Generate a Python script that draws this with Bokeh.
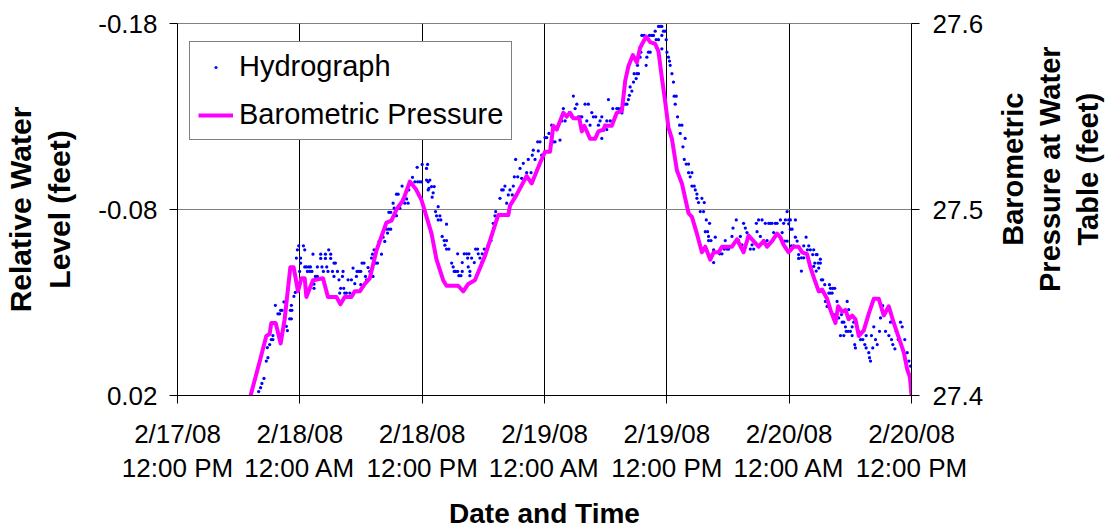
from math import pi
from bokeh.plotting import figure
from bokeh.layouts import row
from bokeh.models import (Range1d, LinearAxis, FixedTicker, Legend, LegendItem)
from bokeh.core.properties import value
from bokeh.embed import file_html
from bokeh.resources import INLINE

FONT = "Liberation Sans"

# ---------------- data ----------------
# x: hours elapsed since 2/17/08 12:00 PM
x_ticks = [0, 12, 24, 36, 48, 60, 72]
x_tick_labels = ["2/17/08\n12:00 PM", "2/18/08\n12:00 AM", "2/18/08\n12:00 PM",
                 "2/19/08\n12:00 AM", "2/19/08\n12:00 PM", "2/20/08\n12:00 AM",
                 "2/20/08\n12:00 PM"]
level_ticks = [-0.18, -0.08, 0.02]
level_tick_labels = ["-0.18", "-0.08", "0.02"]
baro_ticks = [27.4, 27.5, 27.6]
baro_tick_labels = ["27.4", "27.5", "27.6"]

series_names = ["Hydrograph", "Barometric Pressure"]
x_title = "Date and Time"
left_title = "Relative Water\nLevel (feet)"
right_title = "Barometric\nPressure at Water\nTable (feet)"

hydro_hours = [
    7.96, 8.15, 8.28, 8.48, 8.71, 8.87, 8.81, 9.04, 9.20, 9.36,
    9.36, 9.60, 9.85, 10.02, 10.12, 10.25, 10.44, 10.51, 10.68, 10.78,
    11.00, 11.17, 11.07, 11.23, 11.17, 11.42, 11.56, 11.66, 11.76, 11.89,
    12.08, 12.08, 11.98, 12.35, 12.48, 12.48, 12.64, 12.87, 13.04, 12.74,
    12.97, 13.19, 13.29, 13.39, 13.39, 13.53, 13.72, 13.72, 14.05, 14.05,
    14.17, 14.31, 14.51, 14.51, 14.64, 14.76, 14.83, 15.03, 15.03, 15.20,
    15.35, 15.35, 15.49, 15.69, 15.84, 15.91, 16.01, 16.18, 16.24, 16.31,
    16.40, 16.57, 16.73, 16.90, 17.06, 17.22, 17.39, 17.55, 17.61, 17.81,
    17.98, 17.98, 18.10, 18.30, 18.44, 18.54, 18.69, 18.86, 18.96, 19.03,
    19.13, 19.18, 19.28, 19.45, 19.62, 19.68, 19.77, 20.01, 20.17, 20.33,
    20.50, 20.60, 20.73, 20.92, 20.73, 20.92, 21.15, 21.25, 21.32, 21.48,
    21.64, 21.48, 21.64, 21.81, 22.03, 22.13, 22.30, 22.47, 22.62, 22.69,
    22.79, 23.05, 23.28, 23.55, 23.77, 23.94, 23.51, 24.00, 24.53, 24.59,
    24.59, 24.43, 24.43, 24.75, 24.66, 24.92, 25.18, 24.98, 25.08, 25.31,
    25.57, 25.41, 25.74, 25.57, 25.83, 26.39, 25.96, 26.16, 26.39, 26.23,
    26.39, 26.62, 26.89, 27.04, 27.14, 27.28, 27.48, 27.48, 27.60, 27.80,
    27.93, 27.93, 28.12, 28.36, 28.59, 28.46, 28.52, 28.68, 28.68, 28.85,
    29.11, 29.24, 29.44, 29.50, 29.67, 29.83, 29.89, 30.09, 30.32, 30.48,
    30.75, 30.97, 31.14, 31.21, 31.63, 31.80, 31.95, 32.12, 32.29, 32.45,
    32.61, 32.84, 32.94, 33.04, 33.17, 33.37, 33.60, 33.76, 33.92, 34.25,
    34.41, 34.68, 34.80, 34.90, 35.07, 35.33, 35.56, 35.39, 35.72, 36.05,
    36.22, 36.44, 36.71, 36.87, 37.03, 37.20, 37.36, 37.52, 37.69, 37.85,
    38.02, 38.18, 38.44, 38.67, 38.83, 39.00, 39.17, 39.32, 39.49, 39.66,
    39.98, 40.15, 40.30, 40.47, 40.64, 40.80, 41.03, 41.29, 41.45, 41.62,
    41.94, 42.11, 42.27, 41.62, 41.78, 42.11, 42.44, 42.70, 42.70, 42.93,
    43.09, 43.25, 43.49, 43.59, 43.91, 44.08, 44.23, 44.33, 44.40, 44.57,
    44.73, 44.79, 44.99, 45.06, 45.22, 45.12, 45.38, 45.45, 45.55, 45.78,
    45.97, 46.04, 46.20, 46.37, 46.30, 46.53, 46.69, 46.86, 46.95, 47.18,
    47.18, 47.35, 47.51, 47.51, 47.67, 47.51, 47.84, 47.94, 48.01, 48.16,
    48.26, 48.33, 48.50, 48.65, 48.72, 48.92, 48.82, 49.05, 49.25, 49.48,
    49.31, 49.58, 49.80, 49.71, 49.90, 50.13, 50.13, 50.29, 50.46, 50.46,
    50.69, 50.79, 50.95, 50.95, 51.11, 51.44, 51.67, 51.28, 51.60, 51.87,
    51.77, 52.00, 52.19, 52.09, 52.09, 52.33, 52.59, 52.75, 52.59, 53.18,
    53.41, 53.73, 53.63, 53.90, 54.06, 54.39, 54.49, 54.81, 54.88, 55.04,
    55.21, 55.37, 55.53, 55.70, 55.86, 56.02, 56.19, 56.36, 56.52, 56.78,
    56.85, 57.00, 57.17, 57.34, 57.50, 57.66, 57.83, 57.99, 58.15, 58.32,
    58.48, 58.64, 58.81, 59.14, 59.31, 59.46, 59.63, 59.80, 59.95, 59.95,
    60.12, 60.12, 60.29, 59.56, 59.80, 60.61, 60.22, 60.44, 60.61, 60.78,
    60.93, 60.93, 61.20, 61.43, 61.20, 61.43, 61.66, 61.79, 61.92, 62.08,
    62.31, 62.41, 62.41, 62.51, 62.65, 62.74, 62.65, 62.84, 62.90, 63.06,
    63.06, 63.16, 63.29, 63.49, 63.95, 64.05, 64.27, 64.47, 63.89, 64.05,
    64.22, 63.56, 63.72, 64.37, 64.64, 64.70, 64.86, 65.13, 65.20, 65.36,
    65.52, 65.69, 65.84, 65.59, 65.78, 65.03, 65.36, 66.01, 66.18, 66.34,
    66.18, 66.43, 66.50, 66.67, 66.83, 67.00, 67.22, 67.42, 67.55, 67.55,
    67.81, 67.88, 67.98, 68.07, 68.20, 68.30, 68.47, 68.64, 68.86, 68.96,
    69.06, 69.18, 69.45, 69.78, 69.94, 70.04, 70.17, 70.37, 70.51, 70.70,
    70.92, 71.09, 71.34, 71.58, 71.74, 71.91,
]
hydro_level = [
    0.0179, 0.0158, 0.0135, 0.0108, 0.0015, -0.0003, -0.0058, -0.0074, -0.0101, -0.0101,
    -0.0122, -0.0285, -0.0239, -0.0239, -0.0258, -0.0258, -0.0303, -0.0194, -0.0172, -0.0149,
    -0.0212, -0.0212, -0.0258, -0.0258, -0.0285, -0.0333, -0.0354, -0.0539, -0.0583, -0.0605,
    -0.0539, -0.0512, -0.0467, -0.0605, -0.0583, -0.0491, -0.0491, -0.0491, -0.0491, -0.0467,
    -0.0467, -0.0467, -0.0560, -0.0399, -0.0376, -0.0440, -0.0491, -0.0440, -0.0560, -0.0537,
    -0.0491, -0.0467, -0.0560, -0.0537, -0.0491, -0.0467, -0.0583, -0.0560, -0.0537, -0.0467,
    -0.0512, -0.0440, -0.0512, -0.0467, -0.0422, -0.0351, -0.0376, -0.0440, -0.0467, -0.0376,
    -0.0351, -0.0351, -0.0422, -0.0351, -0.0422, -0.0485, -0.0401, -0.0440, -0.0467, -0.0467,
    -0.0467, -0.0396, -0.0512, -0.0512, -0.0440, -0.0422, -0.0488, -0.0467, -0.0440, -0.0539,
    -0.0560, -0.0440, -0.0583, -0.0512, -0.0512, -0.0605, -0.0628, -0.0560, -0.0651, -0.0628,
    -0.0694, -0.0673, -0.0694, -0.0694, -0.0785, -0.0785, -0.0834, -0.0807, -0.0767, -0.0767,
    -0.0807, -0.0882, -0.0882, -0.0807, -0.0926, -0.0857, -0.0834, -0.0857, -0.0834, -0.0905,
    -0.0949, -0.0973, -0.0949, -0.0949, -0.0949, -0.0949, -0.1027, -0.1042, -0.1042, -0.0949,
    -0.0905, -0.1021, -0.0958, -0.0958, -0.0914, -0.0923, -0.0923, -0.0866, -0.0890, -0.0789,
    -0.0815, -0.0766, -0.0766, -0.0744, -0.0744, -0.0721, -0.0655, -0.0633, -0.0633, -0.0608,
    -0.0587, -0.0587, -0.0512, -0.0491, -0.0467, -0.0467, -0.0562, -0.0467, -0.0444, -0.0444,
    -0.0467, -0.0515, -0.0562, -0.0562, -0.0562, -0.0539, -0.0491, -0.0467, -0.0444, -0.0539,
    -0.0515, -0.0587, -0.0587, -0.0562, -0.0539, -0.0515, -0.0562, -0.0587, -0.0587, -0.0610,
    -0.0633, -0.0726, -0.0766, -0.0789, -0.0860, -0.0905, -0.0905, -0.0926, -0.0834, -0.0878,
    -0.0905, -0.0878, -0.0926, -0.0976, -0.1069, -0.0976, -0.1021, -0.0968, -0.1048, -0.0998,
    -0.1069, -0.0998, -0.1092, -0.1119, -0.1069, -0.1164, -0.1164, -0.1115, -0.1092, -0.1187,
    -0.1187, -0.1209, -0.1253, -0.1164, -0.1164, -0.1230, -0.1253, -0.1173, -0.1276, -0.1343,
    -0.1276, -0.1298, -0.1321, -0.1298, -0.1410, -0.1343, -0.1366, -0.1298, -0.1298, -0.1298,
    -0.1366, -0.1276, -0.1366, -0.1253, -0.1321, -0.1298, -0.1298, -0.1253, -0.1276, -0.1298,
    -0.1253, -0.1276, -0.1391, -0.1182, -0.1226, -0.1230, -0.1276, -0.1276, -0.1343, -0.1298,
    -0.1343, -0.1343, -0.1343, -0.1319, -0.1366, -0.1366, -0.1391, -0.1414, -0.1459, -0.1437,
    -0.1485, -0.1530, -0.1504, -0.1530, -0.1530, -0.1575, -0.1619, -0.1646, -0.1736, -0.1736,
    -0.1575, -0.1619, -0.1646, -0.1646, -0.1736, -0.1736, -0.1736, -0.1759, -0.1713, -0.1713,
    -0.1784, -0.1784, -0.1784, -0.1736, -0.1759, -0.1664, -0.1759, -0.1713, -0.1646, -0.1619,
    -0.1598, -0.1575, -0.1530, -0.1485, -0.1409, -0.1409, -0.1366, -0.1298, -0.1253, -0.1253,
    -0.1209, -0.1137, -0.1182, -0.1069, -0.1044, -0.1044, -0.0998, -0.0976, -0.0998, -0.0926,
    -0.0926, -0.0905, -0.0883, -0.0860, -0.0837, -0.0860, -0.0837, -0.0789, -0.0789, -0.0744,
    -0.0681, -0.0681, -0.0726, -0.0655, -0.0633, -0.0633, -0.0515, -0.0651, -0.0583, -0.0562,
    -0.0562, -0.0633, -0.0587, -0.0587, -0.0587, -0.0655, -0.0700, -0.0744, -0.0633, -0.0633,
    -0.0655, -0.0610, -0.0726, -0.0700, -0.0676, -0.0655, -0.0587, -0.0610, -0.0587, -0.0726,
    -0.0681, -0.0744, -0.0655, -0.0744, -0.0633, -0.0726, -0.0633, -0.0726, -0.0726, -0.0726,
    -0.0676, -0.0726, -0.0726, -0.0744, -0.0676, -0.0726, -0.0744, -0.0789, -0.0744, -0.0723,
    -0.0744, -0.0694, -0.0694, -0.0630, -0.0630, -0.0744, -0.0605, -0.0605, -0.0651, -0.0630,
    -0.0558, -0.0537, -0.0540, -0.0540, -0.0469, -0.0605, -0.0651, -0.0583, -0.0605, -0.0583,
    -0.0558, -0.0583, -0.0494, -0.0512, -0.0558, -0.0558, -0.0469, -0.0512, -0.0485, -0.0533,
    -0.0512, -0.0422, -0.0422, -0.0396, -0.0396, -0.0376, -0.0376, -0.0376, -0.0351, -0.0351,
    -0.0351, -0.0306, -0.0279, -0.0235, -0.0235, -0.0306, -0.0217, -0.0235, -0.0194, -0.0194,
    -0.0169, -0.0306, -0.0262, -0.0145, -0.0145, -0.0122, -0.0122, -0.0145, -0.0169, -0.0194,
    -0.0122, -0.0074, -0.0056, -0.0169, -0.0145, -0.0101, -0.0101, -0.0074, -0.0122, -0.0056,
    -0.0030, -0.0003, 0.0015, -0.0122, -0.0056, -0.0169, -0.0101, -0.0074, -0.0145, -0.0217,
    -0.0262, -0.0283, -0.0145, -0.0122, -0.0194, -0.0101, -0.0074, -0.0051, -0.0145, -0.0101,
    -0.0194, -0.0169, -0.0101, -0.0030, 0.0015, 0.0042,
]

baro_hours = [
    7.17, 8.05, 8.71, 9.04, 9.20, 9.63, 10.12, 10.51, 10.83, 11.07,
    11.39, 11.82, 12.15, 12.48, 12.64, 13.29, 14.27, 14.76, 15.59, 15.98,
    16.40, 17.06, 17.39, 17.88, 18.37, 18.86, 19.52, 20.50, 20.99, 21.48,
    22.13, 22.79, 23.38, 23.94, 24.43, 24.92, 25.41, 26.06, 26.39, 27.53,
    28.03, 28.52, 29.17, 30.16, 31.46, 32.45, 32.61, 33.27, 34.25, 34.74,
    35.56, 36.05, 36.54, 36.87, 37.20, 37.85, 38.18, 38.51, 38.83, 39.42,
    39.66, 39.91, 40.47, 40.96, 41.29, 41.78, 41.94, 42.60, 43.09, 43.59,
    43.91, 44.23, 44.67, 45.06, 45.38, 45.97, 46.37, 46.86, 47.18, 47.51,
    47.84, 48.16, 48.50, 48.99, 49.48, 50.13, 50.46, 50.95, 51.44, 51.77,
    52.26, 52.59, 53.08, 53.41, 54.39, 54.88, 55.53, 56.02, 56.51, 57.00,
    57.50, 57.83, 58.32, 58.81, 59.14, 59.46, 59.95, 60.44, 60.93, 61.27,
    61.76, 62.08, 62.57, 62.90, 63.23, 63.72, 64.05, 64.54, 64.80, 65.20,
    65.52, 65.84, 66.18, 66.50, 66.83, 67.32, 67.81, 68.30, 68.79, 69.28,
    69.77, 70.26, 70.76, 71.25, 71.58, 71.84, 72.00,
]
baro_level = [
    27.400, 27.418, 27.432, 27.433, 27.439, 27.439, 27.428, 27.441, 27.457, 27.469,
    27.469, 27.456, 27.463, 27.463, 27.453, 27.462, 27.463, 27.453, 27.453, 27.449,
    27.453, 27.453, 27.456, 27.456, 27.460, 27.463, 27.478, 27.493, 27.494, 27.500,
    27.505, 27.515, 27.511, 27.505, 27.496, 27.487, 27.473, 27.462, 27.459, 27.459,
    27.456, 27.460, 27.462, 27.475, 27.497, 27.497, 27.502, 27.508, 27.518, 27.514,
    27.525, 27.531, 27.531, 27.545, 27.543, 27.552, 27.550, 27.552, 27.549, 27.549,
    27.542, 27.545, 27.538, 27.538, 27.542, 27.543, 27.545, 27.545, 27.552, 27.553,
    27.569, 27.577, 27.583, 27.579, 27.587, 27.593, 27.590, 27.589, 27.585, 27.571,
    27.558, 27.544, 27.538, 27.521, 27.514, 27.498, 27.496, 27.487, 27.477, 27.480,
    27.473, 27.477, 27.477, 27.480, 27.480, 27.484, 27.477, 27.486, 27.483, 27.480,
    27.483, 27.480, 27.483, 27.487, 27.485, 27.481, 27.477, 27.480, 27.480, 27.477,
    27.476, 27.469, 27.461, 27.456, 27.457, 27.452, 27.446, 27.439, 27.448, 27.445,
    27.446, 27.441, 27.443, 27.441, 27.432, 27.435, 27.444, 27.452, 27.452, 27.443,
    27.448, 27.439, 27.431, 27.423, 27.414, 27.410, 27.400,
]
assert len(hydro_hours) == len(hydro_level)
assert len(baro_hours) == len(baro_level)

# ---------------- main figure ----------------
MAIN_W = 990
p = figure(width=MAIN_W, height=531, output_backend="svg", toolbar_location=None,
           x_range=Range1d(0, 72), y_range=Range1d(0.02, -0.18),
           min_border_left=176, min_border_right=MAIN_W - 911, min_border_top=23,
           min_border_bottom=135, background_fill_color="white",
           border_fill_color="white")
p.extra_y_ranges = {"baro": Range1d(27.4, 27.6)}
p.outline_line_color = "#808080"
p.outline_line_width = 1

r_hydro = p.scatter(hydro_hours, hydro_level, marker="dot", size=13,
                    line_color="#0000FF", fill_color="#0000FF")
r_baro = p.line(baro_hours, baro_level, y_range_name="baro", line_color="#FF00FF",
                line_width=4, line_join="round")


def style_axis(ax):
    ax.axis_line_color = "black"
    ax.axis_line_width = 1
    ax.major_tick_line_color = "black"
    ax.major_tick_out = 8
    ax.major_tick_in = 0
    ax.minor_tick_line_color = None
    ax.major_label_text_font = FONT
    ax.major_label_text_font_size = "26px"
    ax.major_label_text_color = "black"
    ax.axis_label_text_font = FONT
    ax.axis_label_text_font_style = "bold"
    ax.axis_label_text_color = "black"


xa = p.xaxis[0]
xa.ticker = FixedTicker(ticks=x_ticks)
xa.major_label_overrides = dict(zip(x_ticks, x_tick_labels))
style_axis(xa)
xa.major_label_standoff = 15
xa.major_label_text_line_height = 1.14
xa.axis_label = x_title
xa.axis_label_text_font_size = "28px"
xa.axis_label_text_line_height = 0.85
xa.axis_label_standoff = 12

ya = p.yaxis[0]
ya.ticker = FixedTicker(ticks=level_ticks)
ya.major_label_overrides = dict(zip(level_ticks, level_tick_labels))
style_axis(ya)
ya.major_label_standoff = 12
ya.axis_label = left_title
ya.axis_label_text_font_size = "30px"
ya.axis_label_text_line_height = 1.2
ya.axis_label_standoff = 19

ra = LinearAxis(y_range_name="baro", ticker=FixedTicker(ticks=baro_ticks),
                major_label_overrides=dict(zip(baro_ticks, baro_tick_labels)))
style_axis(ra)
ra.major_label_standoff = 13
p.add_layout(ra, "right")

p.xgrid.ticker = FixedTicker(ticks=x_ticks)
p.xgrid.grid_line_color = "black"
p.xgrid.grid_line_width = 1
p.ygrid.ticker = FixedTicker(ticks=level_ticks)
p.ygrid.grid_line_color = "#808080"
p.ygrid.grid_line_width = 1

legend = Legend(items=[LegendItem(label=series_names[0], renderers=[r_hydro]),
                       LegendItem(label=series_names[1], renderers=[r_baro])],
                location=(12, 255), orientation="vertical",
                border_line_color="black", border_line_width=1,
                background_fill_color="white", background_fill_alpha=1.0,
                label_text_font=FONT, label_text_font_size="29px",
                label_text_color="black", label_standoff=6,
                glyph_width=35, glyph_height=30, label_height=30,
                spacing=15, padding=8, margin=0)
p.add_layout(legend)

# ---------------- right-hand axis title (reads bottom to top) ----------------
SIDE_W = 1109 - MAIN_W
p2 = figure(width=SIDE_W, height=531, output_backend="svg", toolbar_location=None,
            x_range=Range1d(0, SIDE_W), y_range=Range1d(0, 531),
            x_axis_location=None, y_axis_location=None,
            min_border=0, min_border_left=0, min_border_right=0,
            min_border_top=0, min_border_bottom=0,
            background_fill_color="white", border_fill_color="white")
p2.outline_line_color = None
p2.grid.grid_line_color = None
p2.text(x=[1050 - MAIN_W], y=[531 - 208], text=[right_title], angle=pi / 2,
        text_align="center", text_baseline="middle", text_font=value(FONT),
        text_font_style="bold", text_font_size="29px", text_line_height=1.17,
        text_color="black")

layout = row(p, p2, spacing=0)
open("out.html", "w").write(file_html(layout, INLINE))
